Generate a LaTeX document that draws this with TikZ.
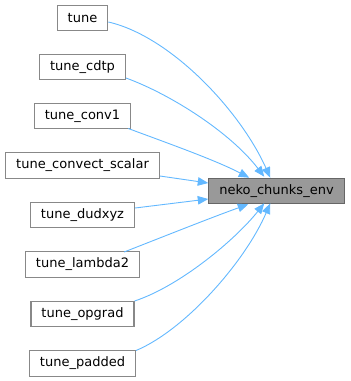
\documentclass[tikz,border=0pt]{standalone}
\usepackage{fontspec}
\setmainfont{DejaVu Sans}
\usetikzlibrary{arrows.meta}
\definecolor{edgeblue}{HTML}{63B8FF}
\definecolor{boxborder}{HTML}{888888}
\definecolor{hlfill}{HTML}{999999}
\definecolor{hlborder}{HTML}{666666}
\tikzset{
  fn/.style={draw=boxborder, fill=white, line width=1.1pt, minimum height=25.5pt,
    inner xsep=10.5pt, inner ysep=0pt, font=\fontsize{13}{15}\selectfont, anchor=center},
  hl/.style={fn, draw=hlborder, fill=hlfill},
  call/.style={draw=edgeblue, line width=0.9pt,
    {Triangle[length=10.5pt,width=8.5pt,fill=edgeblue]}-},
}
\begin{document}
\begin{tikzpicture}[x=1pt,y=1pt]
\useasboundingbox (0,0) rectangle (351,-381);
\node[hl] (t) at (276.5,-191) {neko\_chunks\_env};
\node[fn] (a) at (82.5,-18) {tune};
\node[fn] (b) at (82.5,-67) {tune\_cdtp};
\node[fn] (c) at (82.5,-116) {tune\_conv1};
\node[fn] (d) at (82.5,-165.5) {tune\_convect\_scalar};
\node[fn] (e) at (82.5,-215) {tune\_dudxyz};
\node[fn] (f) at (82.5,-264.5) {tune\_lambda2};
\node[fn] (g) at (82.5,-314) {tune\_opgrad};
\node[fn] (h) at (82.5,-363.5) {tune\_padded};
% edges (drawn from tip back to source so the tip is at the target)
\draw[call] ([xshift=62pt]t.north west) .. controls (240,-110) and (170,-36) .. ([yshift=-4pt]a.east);
\draw[call] ([xshift=56pt,yshift=1pt]t.north west) .. controls (230,-132) and (170,-94) .. ([yshift=-11pt]b.east);
\draw[call] ([xshift=41pt]t.north west) .. controls (215,-160) and (170,-144) .. ([xshift=-3pt,yshift=-12.5pt]c.east);
\draw[call] ([yshift=8pt]t.west) -- ([yshift=-10.5pt]d.east);
\draw[call] ([yshift=-8pt]t.west) -- ([yshift=7pt]e.east);
\draw[call] ([xshift=40pt]t.south west) .. controls (210,-218) and (160,-238) .. ([xshift=-16pt,yshift=12.5pt]f.east);
\draw[call] ([xshift=56pt,yshift=1pt]t.south west) .. controls (235,-240) and (180,-286) .. ([yshift=13pt]g.east);
\draw[call] ([xshift=62pt,yshift=1pt]t.south west) .. controls (245,-262) and (185,-330) .. ([yshift=13pt]h.east);
\end{tikzpicture}
\end{document}
